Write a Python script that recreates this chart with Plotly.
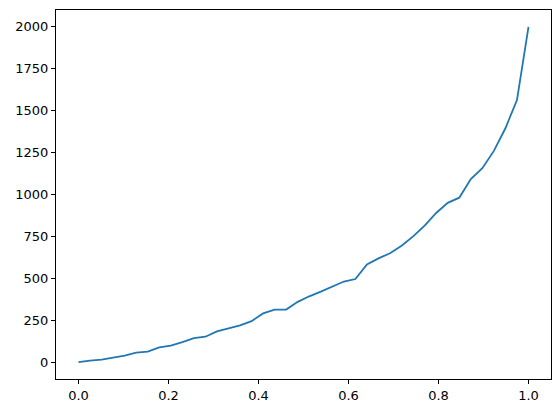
import numpy as np
import plotly.graph_objects as go

# x grid: 40 evenly spaced samples on [0, 1]
x = np.linspace(0, 1, 40)
y = [
    0, 10, 15, 27, 39, 57, 63, 89, 99, 120,
    144, 152, 184, 202, 220, 245, 291, 314, 314, 360,
    393, 421, 451, 481, 496, 583, 619, 650, 694, 750,
    815, 890, 950, 981, 1092, 1157, 1260, 1395, 1563, 2000,
]

x_ticks = [0.0, 0.2, 0.4, 0.6, 0.8, 1.0]
y_ticks = [0, 250, 500, 750, 1000, 1250, 1500, 1750, 2000]

fig = go.Figure(
    go.Scatter(
        x=x,
        y=y,
        mode="lines",
        line=dict(color="#1f77b4", width=1.8),
        showlegend=False,
    )
)

axis_style = dict(
    showline=True,
    linecolor="black",
    linewidth=1,
    mirror=True,
    showgrid=False,
    zeroline=False,
    ticks="outside",
    ticklen=4,
    tickwidth=1,
    tickcolor="black",
    automargin=False,
)

fig.update_xaxes(range=[-0.05, 1.05], tickvals=x_ticks, tickformat=".1f", **axis_style)
fig.update_yaxes(range=[-100, 2100], tickvals=y_ticks, **axis_style)

# the page body adds an 8px offset, so the figure is sized to fit inside it
fig.update_layout(
    width=552,
    height=405,
    margin=dict(l=48, r=9, t=2, b=34),
    plot_bgcolor="white",
    paper_bgcolor="white",
    font=dict(family="DejaVu Sans", size=13, color="black"),
)

fig.write_html("out.html")
